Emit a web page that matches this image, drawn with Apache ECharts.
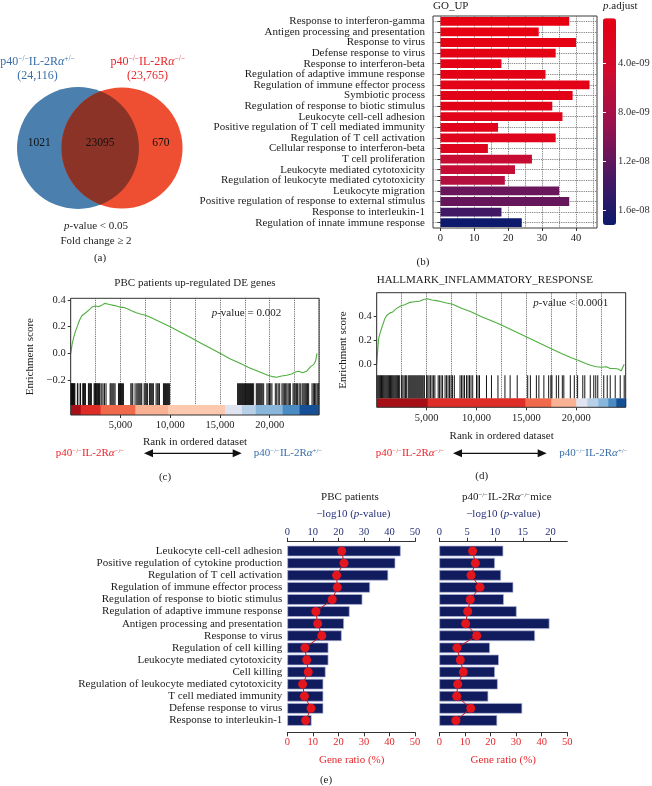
<!DOCTYPE html>
<html><head><meta charset="utf-8">
<script src="https://cdn.jsdelivr.net/npm/echarts@6/dist/echarts.min.js"></script>
<style>html,body{margin:0;padding:0;background:#fff}#c{width:652px;height:786px}</style>
</head><body><div id="c"></div>
<script>
// ================= DATA =================
// (a) Venn
const vennTotals = [24116, 23765];
const vennOnly = [1021, 670];
const vennShared = 23095;

// (b) GO_UP
const goCategories = ['Response to interferon-gamma','Antigen processing and presentation','Response to virus','Defense response to virus','Response to interferon-beta','Regulation of adaptive immune response','Regulation of immune effector process','Symbiotic process','Regulation of response to biotic stimulus','Leukocyte cell-cell adhesion','Positive regulation of T cell mediated immunity','Regulation of T cell activation','Cellular response to interferon-beta','T cell proliferation','Leukocyte mediated cytotoxicity','Regulation of leukocyte mediated cytotoxicity','Leukocyte migration','Positive regulation of response to external stimulus','Response to interleukin-1','Regulation of innate immune response'];
const goCounts = [38, 29, 40, 34, 18, 31, 44, 39, 33, 36, 17, 34, 14, 27, 22, 19, 35, 38, 18, 24];
const goPadj = [3.2e-10, 4e-10, 5e-10, 6e-10, 8e-10, 9e-10, 1.0e-9, 1.1e-9, 1.3e-9, 1.4e-9, 1.6e-9, 1.8e-9, 2.1e-9, 5.5e-9, 5.6e-9, 7.0e-9, 1.15e-8, 1.17e-8, 1.38e-8, 1.72e-8];
const goCountTicks = [0, 10, 20, 30, 40];
const goGridTicks = [0, 5, 10, 15, 20, 25, 30, 35, 40, 45];
const goPadjTicks = [4e-9, 8e-9, 1.2e-8, 1.6e-8];

// (c)/(d) GSEA
const totalGenes = 24950;
const rankTicks = [5000, 10000, 15000, 20000];
const esTicksC = [-0.2, 0, 0.2, 0.4];
const esTicksD = [0, 0.2, 0.4];
const esRankC = [0,150,300,500,700,900,1100,1300,1600,1900,2200,2500,2800,3100,3400,3700,4000,4300,4600,5000,5300,5700,6100,6600,7000,7500,8000,9000,10000,11000,12000,13000,14000,15000,16000,17000,18000,19000,19800,20300,20700,21200,21700,22200,22600,22900,23300,23700,24100,24400,24600,24750];
const esValC = [0,0.07,0.12,0.17,0.21,0.25,0.28,0.29,0.31,0.33,0.35,0.355,0.35,0.36,0.375,0.37,0.365,0.36,0.355,0.345,0.345,0.335,0.32,0.305,0.295,0.285,0.27,0.235,0.2,0.16,0.12,0.08,0.04,0.0,-0.04,-0.075,-0.11,-0.14,-0.165,-0.175,-0.18,-0.17,-0.165,-0.155,-0.14,-0.135,-0.145,-0.135,-0.1,-0.085,-0.06,0.0];
const hitsC = [20,60,110,150,200,260,310,360,420,670,720,940,990,1210,1280,1350,1420,1480,1780,1850,1920,2000,2080,2350,2420,2500,2580,2650,2720,2800,2880,2950,3120,3250,3400,3550,3960,4050,4150,4250,4350,4460,4800,4900,5000,5100,5200,5300,6040,6150,6240,6470,6640,6750,6850,6950,7050,7140,7380,7480,7600,7710,7910,8000,8100,8200,8310,8580,8700,8800,8920,9320,9420,9520,9620,9720,9820,9920,16770,16870,16970,17070,17170,17270,17370,17470,17570,17670,17770,17870,17970,18070,18170,18270,18380,18650,18750,18850,18950,19050,19150,19250,19390,19720,19850,19980,20100,20220,20560,20700,20850,21000,21230,21350,21470,21600,21720,21850,21970,22070,22340,22450,22560,22680,22800,22950,23070,23250,23350,23460,23570,23680,23800,23910,24250,24380,24500,24620,24750,24850,24920];
const stripC = [[0,1000,5],[1000,3000,4],[3000,6500,3],[6500,9800,2],[9800,15500,1],[15500,17200,-1],[17200,18600,-2],[18600,21300,-3],[21300,23000,-4],[23000,24950,-5]];

const esRankD = [0,100,200,400,600,800,1000,1300,1600,2000,2400,2800,3300,3800,4300,4700,5100,5500,6000,6500,7000,7600,8500,9500,10500,11500,12500,13500,14500,15500,16500,17500,18500,19500,20300,21000,21500,22000,22500,23000,23400,23800,24200,24500,24700,24800];
const esValD = [0,0.12,0.22,0.28,0.33,0.38,0.41,0.43,0.44,0.47,0.49,0.5,0.52,0.525,0.53,0.545,0.55,0.54,0.535,0.525,0.515,0.505,0.47,0.44,0.40,0.365,0.33,0.29,0.25,0.21,0.17,0.13,0.09,0.055,0.03,0.005,-0.01,-0.02,-0.025,-0.02,-0.035,-0.035,-0.04,-0.055,-0.05,0.0];
const hitsD = [30,120,210,300,390,480,570,660,750,840,930,1020,1110,1200,1290,1380,1470,1560,1650,1740,1830,1920,2010,2100,2190,2300,2500,2620,2750,2880,3000,3160,3260,3360,3460,3560,3660,3760,3860,3960,4060,4160,4260,4360,4460,4560,4660,4780,5000,5120,5250,5400,5550,5700,5830,6160,6300,6450,6600,6850,7000,7150,7300,7450,7600,7780,8350,8500,8650,8800,9000,9150,9300,9450,9620,10000,10150,10300,11000,11500,12150,12850,13370,14080,15130,15400,16000,16250,16750,17230,17450,17560,18000,18230,18600,18750,19400,19800,20130,20650,20850,21400,21750,21950,22150,22750,23100,23400,23900,24400,24800];
const stripD = [[0,5100,5],[5100,14900,4],[14900,17500,3],[17500,20000,2],[20000,21100,-1],[21100,22200,-2],[22200,23200,-3],[23200,24000,-4],[24000,24950,-5]];

// (e) enrichment
const eCategories = ['Leukocyte cell-cell adhesion','Positive regulation of cytokine production','Regulation of T cell activation','Regulation of immune effector process','Regulation of response to biotic stimulus','Regulation of adaptive immune response','Antigen processing and presentation','Response to virus','Regulation of cell killing','Leukocyte mediated cytotoxicity','Cell killing','Regulation of leukocyte mediated cytotoxicity','T cell mediated immunity','Defense response to virus','Response to interleukin-1'];
const pbcLogP = [44.4,42.3,39.5,32.4,29.4,24.4,22.2,21.3,16.1,16.1,15.0,14.1,14.1,14.1,9.5];
const pbcRatio = [21.3,22.2,19.3,19.6,17.6,11.2,11.9,13.5,6.9,7.6,8.2,6.0,6.7,9.3,7.2];
const miceLogP = [11.5,10.0,11.1,13.3,11.6,13.9,19.8,17.2,9.1,10.7,10.0,10.5,8.8,14.9,10.4];
const miceRatio = [13.0,14.1,12.4,15.9,12.1,11.1,10.3,14.6,6.9,8.2,9.4,7.2,6.8,12.3,6.5];
const pbcLogPTicks = [0,10,20,30,40,50];
const miceLogPTicks = [0,5,10,15,20];
const ratioTicks = [0,10,20,30,40,50];

// ================= BUILD =================
const F = '"Liberation Serif", "DejaVu Serif", serif';
const INK = '#1c1c1c';
const NAVY = '#25307a';
const RED = '#e8262b';
const BLUE_T = '#3a6ea8';

const grids = [], xAxes = [], yAxes = [], series = [];
const addGrid = g => { grids.push(Object.assign({outerBoundsMode: 'none', containLabel: false, backgroundColor: 'transparent', borderWidth: 0}, g)); return grids.length - 1; };
const addX = a => { xAxes.push(a); return xAxes.length - 1; };
const addY = a => { yAxes.push(a); return yAxes.length - 1; };
const addS = s => { series.push(s); return series.length - 1; };
const font = (size, color) => ({fontFamily: F, fontSize: size, color: color || INK});
const hidden = (gi, extra) => Object.assign({gridIndex: gi, type: 'value', show: false}, extra || {});
const esFmt = v => (v < 0 ? '\u2212' : '') + Math.abs(v).toFixed(1);
const eFmt = v => v.toExponential(1).replace(/e([+-])(\d)$/, 'e$10$2');

// ---- (a) Venn ----
const gA = addGrid({left: 0, top: 0, width: 200, height: 300});
const xA = addX(hidden(gA, {min: 0, max: 200}));
const yA = addY(hidden(gA, {min: 0, max: 300, inverse: true}));
addS({
  type: 'custom', coordinateSystem: 'cartesian2d', xAxisIndex: xA, yAxisIndex: yA, silent: true,
  data: [[vennShared]],
  renderItem: (params, api) => {
    const maxT = Math.max(...vennTotals);
    const unit = api.size([1, 1])[0];
    const r = vennTotals.map(n => 61 * Math.sqrt(n / maxT) * unit);
    const c1 = api.coord([78, 148]), c2 = api.coord([122, 148]);
    const d = c2[0] - c1[0];
    const a = (d * d + r[0] * r[0] - r[1] * r[1]) / (2 * d);
    const h = Math.sqrt(r[0] * r[0] - a * a);
    const ix = c1[0] + a, cy = c1[1];
    const lens = 'M' + ix + ' ' + (cy - h) + ' A' + r[0] + ' ' + r[0] + ' 0 0 1 ' + ix + ' ' + (cy + h) +
                 ' A' + r[1] + ' ' + r[1] + ' 0 0 1 ' + ix + ' ' + (cy - h) + ' Z';
    const leftEdge = c1[0] - r[0], lensL = c2[0] - r[1], lensR = c1[0] + r[0], rightEdge = c2[0] + r[1];
    const t = (x, v) => ({type: 'text', x: x, y: cy - 5, style: {text: String(v), fill: '#111', fontSize: 11.5, fontFamily: F, align: 'center', verticalAlign: 'middle', textAlign: 'center', textVerticalAlign: 'middle'}});
    return {type: 'group', children: [
      {type: 'circle', shape: {cx: c1[0], cy: cy, r: r[0]}, style: {fill: '#4a7fae'}},
      {type: 'circle', shape: {cx: c2[0], cy: cy, r: r[1]}, style: {fill: '#ee4e32'}},
      {type: 'path', shape: {pathData: lens}, style: {fill: '#8c3327'}},
      t((leftEdge + lensL) / 2, vennOnly[0]),
      t((lensL + lensR) / 2, api.value(0)),
      t((lensR + rightEdge) / 2, vennOnly[1])
    ]};
  }
});

// ---- (b) GO_UP bar ----
const gB = addGrid({left: 433, top: 16, width: 164, height: 212, show: true, borderColor: '#3a3a3a', borderWidth: 1});
const xB = addX({gridIndex: gB, type: 'value', min: -2.2, max: 46.2, position: 'bottom',
  axisLine: {show: false}, axisTick: {show: true, length: 3, customValues: goCountTicks, lineStyle: {color: '#333'}},
  axisLabel: Object.assign({customValues: goCountTicks, margin: 5}, font(10.5)), splitLine: {show: false}});
addX({gridIndex: gB, type: 'value', min: -2.2, max: 46.2, position: 'top',
  axisLine: {show: false}, axisTick: {show: false, customValues: goGridTicks}, axisLabel: {show: false},
  splitLine: {show: true, lineStyle: {type: 'dotted', color: '#666', width: 0.9}}});
const yB = addY({gridIndex: gB, type: 'category', data: goCategories, inverse: true,
  axisLine: {show: false}, axisTick: {show: true, alignWithLabel: true, length: 3, lineStyle: {color: '#333'}},
  axisLabel: Object.assign({interval: 0, margin: 8}, font(11)), splitLine: {show: false}});
addY({gridIndex: gB, type: 'value', min: 0.5, max: 20.5, inverse: true, position: 'right',
  axisLine: {show: false}, axisTick: {show: false, customValues: goCategories.map((_, i) => i + 1)}, axisLabel: {show: false},
  splitLine: {show: true, lineStyle: {type: 'dotted', color: '#666', width: 0.9}}});
const goBarIdx = addS({type: 'bar', xAxisIndex: xB, yAxisIndex: yB, barCategoryGap: '17%', silent: true,
  encode: {x: 0, y: 1}, data: goCounts.map((v, i) => [v, goCategories[i], goPadj[i]]), z: 3});

// colorbar axis
const gCB = addGrid({left: 603, top: 18.3, width: 13, height: 206.7});
addX(hidden(gCB, {min: 0, max: 1}));
addY({gridIndex: gCB, type: 'value', min: 3.2e-10, max: 1.72e-8, inverse: true, position: 'right', z: 10,
  axisLine: {show: false}, axisTick: {show: true, inside: true, length: 3, customValues: goPadjTicks, lineStyle: {color: '#fff', width: 1}},
  axisLabel: Object.assign({customValues: goPadjTicks, margin: 2, formatter: eFmt}, font(10.5, '#333')), splitLine: {show: false}});
addY({gridIndex: gCB, type: 'value', min: 3.2e-10, max: 1.72e-8, inverse: true, position: 'left', z: 10,
  axisLine: {show: false}, axisTick: {show: true, inside: true, length: 3, customValues: goPadjTicks, lineStyle: {color: '#fff', width: 1}},
  axisLabel: {show: false}, splitLine: {show: false}});

// ---- (c)/(d) GSEA ----
const stripSeries = [];
function buildGsea(cfg) {
  const L = cfg.left, W = cfg.width;
  const gEs = addGrid({left: L, top: cfg.top, width: W, height: cfg.esBottom - cfg.top});
  const gBc = addGrid({left: L, top: cfg.esBottom, width: W, height: cfg.bcBottom - cfg.esBottom});
  const gSt = addGrid({left: L, top: cfg.bcBottom, width: W, height: cfg.stBottom - cfg.bcBottom});
  const gFr = addGrid({left: L, top: cfg.top, width: W, height: cfg.stBottom - cfg.top, show: true, borderColor: '#333', borderWidth: 1, z: 6});
  const dotted = gi => ({gridIndex: gi, type: 'value', min: 0, max: totalGenes, interval: 2500,
    axisLine: {show: false}, axisTick: {show: false}, axisLabel: {show: false},
    splitLine: {show: true, lineStyle: {type: 'dotted', color: '#555', width: 0.9}}});
  const xEs = addX(dotted(gEs));
  const yEs = addY({gridIndex: gEs, type: 'value', min: cfg.yMin, max: cfg.yMax,
    axisLine: {show: false}, axisTick: {show: true, length: 3, customValues: cfg.esTicks, lineStyle: {color: '#333'}},
    axisLabel: Object.assign({customValues: cfg.esTicks, margin: 5, formatter: esFmt}, font(10.5)), splitLine: {show: false}});
  const xBc = addX(dotted(gBc));
  const yBc = addY(hidden(gBc, {min: 0, max: 1}));
  const xSt = addX(hidden(gSt, {min: 0, max: totalGenes}));
  const ySt = addY(hidden(gSt, {min: 0, max: 1}));
  addX({gridIndex: gFr, type: 'value', min: 0, max: totalGenes,
    axisLine: {show: false}, axisTick: {show: true, length: 3, customValues: rankTicks, lineStyle: {color: '#333'}},
    axisLabel: Object.assign({customValues: rankTicks, margin: 5}, font(10.5)), splitLine: {show: false}});
  addY(hidden(gFr, {min: 0, max: 1}));
  addS({type: 'line', xAxisIndex: xEs, yAxisIndex: yEs, showSymbol: false, silent: true, z: 4,
    lineStyle: {color: '#4fae3f', width: 1.1}, data: cfg.esRank.map((r, i) => [r, cfg.esVal[i]])});
  addS({type: 'scatter', xAxisIndex: xBc, yAxisIndex: yBc, silent: true, symbol: 'rect',
    symbolSize: [1, cfg.bcBottom - cfg.esBottom], itemStyle: {color: '#000', opacity: 0.92},
    data: cfg.hits.map(r => [r, 0.5])});
  stripSeries.push(addS({type: 'custom', coordinateSystem: 'cartesian2d', xAxisIndex: xSt, yAxisIndex: ySt, silent: true,
    encode: {x: [0, 1]}, data: cfg.strip,
    renderItem: (p, api) => {
      const s = api.coord([api.value(0), 0]), e = api.coord([api.value(1), 1]);
      return {type: 'rect', shape: {x: s[0], y: e[1], width: e[0] - s[0] + 0.5, height: s[1] - e[1]}, style: {fill: api.visual('color')}};
    }}));
}
buildGsea({left: 70.7, width: 248.3, top: 298.3, esBottom: 383.3, bcBottom: 405, stBottom: 415,
  yMin: -0.2248, yMax: 0.4128, esTicks: esTicksC, esRank: esRankC, esVal: esValC, hits: hitsC, strip: stripC});
buildGsea({left: 376.7, width: 249, top: 292.7, esBottom: 375.3, bcBottom: 398.3, stBottom: 407.3,
  yMin: -0.0924, yMax: 0.6015, esTicks: esTicksD, esRank: esRankD, esVal: esValD, hits: hitsD, strip: stripD});

// ---- (e) enrichment ----
function buildEnrich(cfg) {
  const g = addGrid({left: cfg.left, top: 545, width: cfg.width, height: 181.5});
  const xTop = addX({gridIndex: g, type: 'value', position: 'top', offset: 3.3, min: 0, max: cfg.logMax,
    axisLine: {show: true, lineStyle: {color: '#333', width: 1}},
    axisTick: {show: true, length: 4, customValues: cfg.logTicks, lineStyle: {color: '#333'}},
    axisLabel: Object.assign({customValues: cfg.logTicks, margin: 4}, font(10.5, NAVY)), splitLine: {show: false}});
  const xBot = addX({gridIndex: g, type: 'value', position: 'bottom', offset: 5.8, min: 0, max: 50,
    axisLine: {show: true, lineStyle: {color: '#333', width: 1}},
    axisTick: {show: true, length: 4, customValues: ratioTicks, lineStyle: {color: '#333'}},
    axisLabel: Object.assign({customValues: ratioTicks, margin: 4}, font(10.5, RED)), splitLine: {show: false}});
  const y = addY({gridIndex: g, type: 'category', data: eCategories, inverse: true,
    axisLine: {show: false}, axisTick: {show: false},
    axisLabel: Object.assign({show: cfg.showLabels, interval: 0, margin: 5}, font(11)), splitLine: {show: false}});
  addS({type: 'bar', xAxisIndex: xTop, yAxisIndex: y, barCategoryGap: '12%', silent: true, z: 2,
    itemStyle: {color: '#111c5e', borderColor: '#aeb4d8', borderWidth: 0.7},
    data: cfg.logP});
  addS({type: 'line', xAxisIndex: xBot, yAxisIndex: y, silent: true, z: 5,
    showSymbol: true, showAllSymbol: true,
    symbol: 'circle', symbolSize: 9, lineStyle: {color: '#c4161c', width: 1},
    itemStyle: {color: '#e3161d'},
    data: cfg.ratio.map((v, i) => [v, eCategories[i]])});
}
buildEnrich({left: 287.3, width: 127.7, logMax: 50, logTicks: pbcLogPTicks, logP: pbcLogP, ratio: pbcRatio, showLabels: true});
buildEnrich({left: 439.3, width: 128, logMax: 23, logTicks: miceLogPTicks, logP: miceLogP, ratio: miceRatio, showLabels: false});

// ================= TEXT / DECORATION =================
function T(x, y, text, o) {
  o = o || {};
  const al = o.align || 'center';
  const st = {text: text, fill: o.color || INK, fontSize: o.size || 11, fontFamily: F,
    align: al, textAlign: al, verticalAlign: 'middle', textVerticalAlign: 'middle'};
  if (o.rich) st.rich = o.rich;
  return {type: 'text', x: x, y: y, rotation: o.rot || 0, style: st, silent: true, z: 20};
}
const itRich = (size, color) => ({it: {fontStyle: 'italic', fontSize: size, fontFamily: F, fill: color}});
function genoRich(size, color) {
  return {
    n: {fontSize: size, fontFamily: F, fill: color},
    i: {fontSize: size, fontFamily: F, fill: color, fontStyle: 'italic'},
    s: {fontSize: Math.round(size * 0.62 * 10) / 10, fontFamily: F, fill: color, verticalAlign: 'top'}
  };
}
const geno = (sup, tail) => '{n|p40}{s|\u2212/\u2212}{n|IL-2R}{i|\u03b1}{s|' + sup + '}' + (tail ? '{n|' + tail + '}' : '');
const SUP_HET = '+/\u2212', SUP_KO = '\u2212/\u2212';
function arrow(x1, x2, y) {
  const hl = 9, hw = 4;
  return [
    {type: 'line', shape: {x1: x1 + hl - 1, y1: y, x2: x2 - hl + 1, y2: y}, style: {stroke: '#111', lineWidth: 1.3}, silent: true, z: 20},
    {type: 'polygon', shape: {points: [[x1, y], [x1 + hl, y - hw], [x1 + hl, y + hw]]}, style: {fill: '#111'}, silent: true, z: 20},
    {type: 'polygon', shape: {points: [[x2, y], [x2 - hl, y - hw], [x2 - hl, y + hw]]}, style: {fill: '#111'}, silent: true, z: 20}
  ];
}
const fmtK = n => '(' + n.toLocaleString('en-US') + ')';

const graphics = [
  // (a)
  T(37.5, 61.7, geno(SUP_HET), {color: BLUE_T, size: 12, rich: genoRich(12, BLUE_T)}),
  T(37.5, 75.5, fmtK(vennTotals[0]), {color: BLUE_T, size: 12}),
  T(147.7, 61.7, geno(SUP_KO), {color: RED, size: 12, rich: genoRich(12, RED)}),
  T(147.5, 75.5, fmtK(vennTotals[1]), {color: RED, size: 12}),
  T(96, 226, '{it|p}-value < 0.05', {size: 11, rich: itRich(11, INK)}),
  T(96, 241, 'Fold change \u2265 2', {size: 11}),
  T(100, 258, '(a)', {size: 11}),
  // (b)
  T(433, 6, 'GO_UP', {size: 11, align: 'left'}),
  T(603, 6, '{it|p}.adjust', {size: 11, align: 'left', rich: itRich(11, INK)}),
  T(423, 262, '(b)', {size: 11}),
  // (c)
  T(195, 283.3, 'PBC patients up-regulated DE genes', {size: 11}),
  T(211.7, 313.3, '{it|p}-value = 0.002', {size: 11, align: 'left', rich: itRich(11, INK)}),
  T(30, 356.7, 'Enrichment score', {size: 11, rot: Math.PI / 2}),
  T(195, 441.7, 'Rank in ordered dataset', {size: 11}),
  T(90, 453.3, geno(SUP_KO), {color: RED, size: 11, rich: genoRich(11, RED)}),
  T(288, 453.3, geno(SUP_HET), {color: BLUE_T, size: 11, rich: genoRich(11, BLUE_T)}),
  T(165, 476.7, '(c)', {size: 11}),
  // (d)
  T(376.7, 280, 'HALLMARK_INFLAMMATORY_RESPONSE', {size: 11, align: 'left'}),
  T(533.3, 303.3, '{it|p}-value < 0.0001', {size: 11, align: 'left', rich: itRich(11, INK)}),
  T(343.3, 350, 'Enrichment score', {size: 11, rot: Math.PI / 2}),
  T(501.7, 435.7, 'Rank in ordered dataset', {size: 11}),
  T(410, 453.3, geno(SUP_KO), {color: RED, size: 11, rich: genoRich(11, RED)}),
  T(593.3, 453.3, geno(SUP_HET), {color: BLUE_T, size: 11, rich: genoRich(11, BLUE_T)}),
  T(481.7, 476, '(d)', {size: 11}),
  // (e)
  T(350, 497, 'PBC patients', {size: 11}),
  T(353.3, 514, '\u2212log10 ({it|p}-value)', {size: 11, color: NAVY, rich: itRich(11, NAVY)}),
  T(506.7, 497, geno(SUP_KO, 'mice'), {size: 11, rich: genoRich(11, INK)}),
  T(503.3, 514, '\u2212log10 ({it|p}-value)', {size: 11, color: NAVY, rich: itRich(11, NAVY)}),
  T(351.7, 760, 'Gene ratio (%)', {size: 11, color: RED}),
  T(503.3, 760, 'Gene ratio (%)', {size: 11, color: RED}),
  T(326, 780, '(e)', {size: 11})
].concat(arrow(144, 241.7, 453.3), arrow(453, 546.7, 453.3));

const option = {
  animation: false,
  backgroundColor: '#fff',
  grid: grids, xAxis: xAxes, yAxis: yAxes, series: series,
  visualMap: [
    {type: 'continuous', seriesIndex: goBarIdx, dimension: 2, min: 3.2e-10, max: 1.72e-8, inverse: true,
     left: 603, top: 18.3, itemWidth: 13, itemHeight: 206.7, padding: 0, calculable: false, hoverLink: false,
     orient: 'vertical', showLabel: false, text: null,
     inRange: {color: ['#e60012', '#d20a2c', '#9c124c', '#4e1862', '#0d1a6c']}},
    {type: 'piecewise', show: false, seriesIndex: stripSeries, dimension: 2,
     pieces: [
       {value: 5, color: '#a50f15'}, {value: 4, color: '#de2d26'}, {value: 3, color: '#f0694b'},
       {value: 2, color: '#f9b194'}, {value: 1, color: '#fcc8ae'}, {value: -1, color: '#e0e4f0'},
       {value: -2, color: '#b7cfe7'}, {value: -3, color: '#89b6db'}, {value: -4, color: '#4a8bc4'},
       {value: -5, color: '#154f96'}]}
  ],
  graphic: {elements: graphics}
};
const chart = echarts.init(document.getElementById('c'), null, {renderer: 'canvas', width: 652, height: 786});
chart.setOption(option);
</script>
</body></html>
